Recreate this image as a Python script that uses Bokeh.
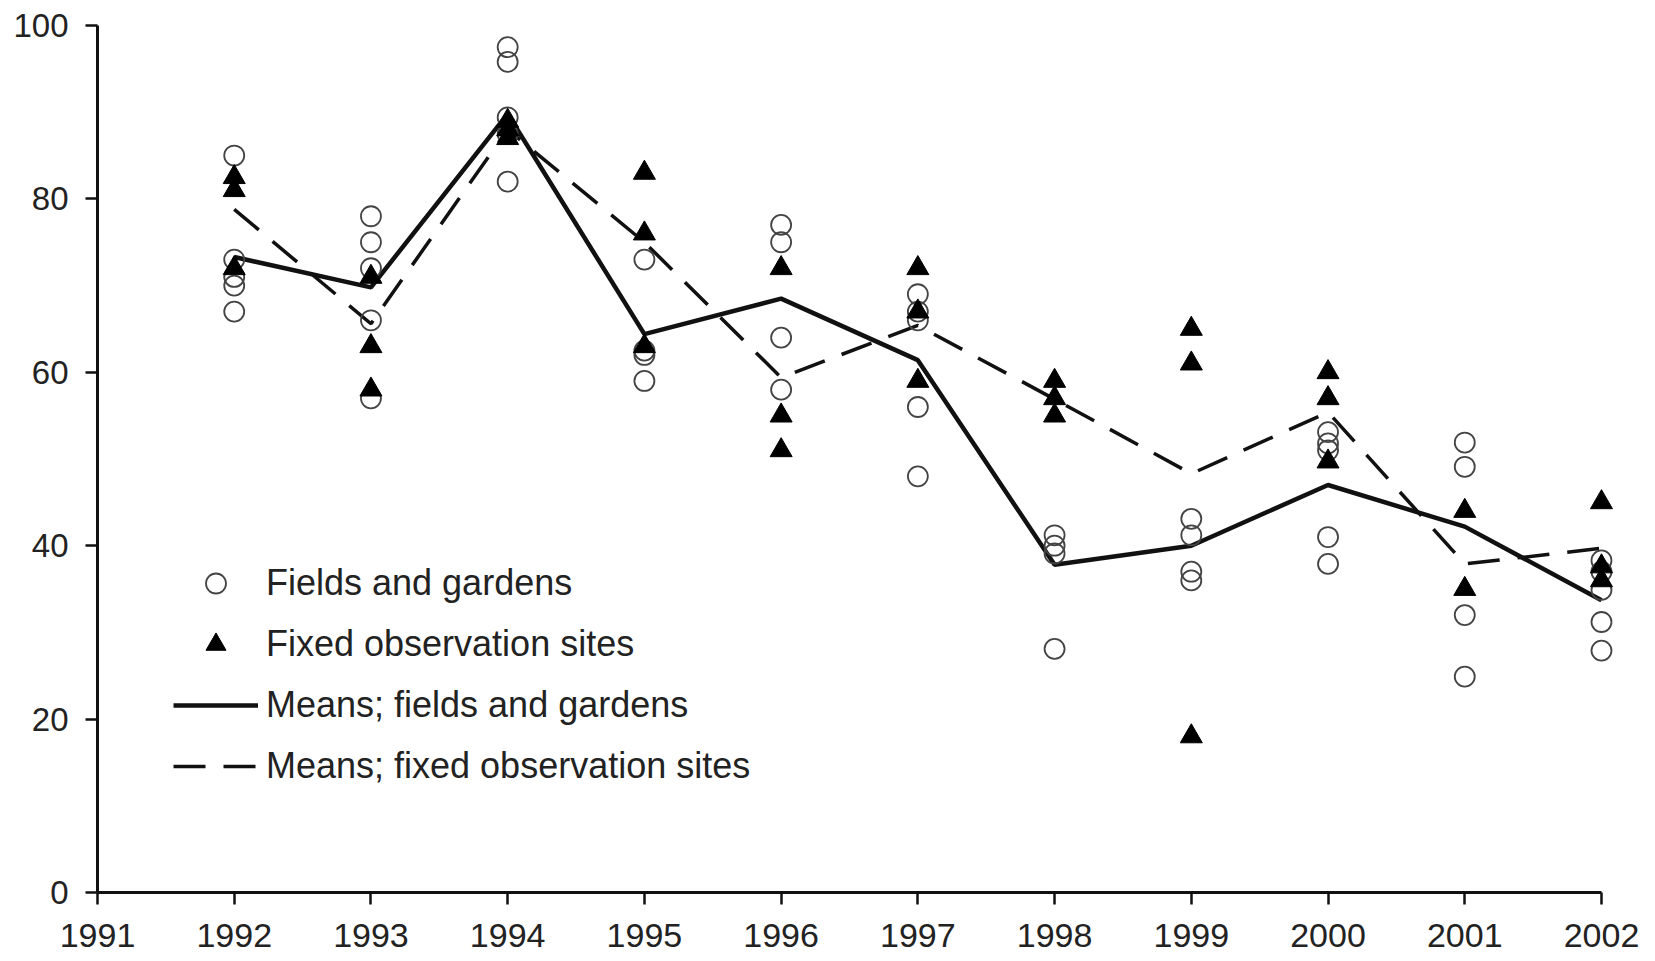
from bokeh.plotting import figure
from bokeh.models import Range1d, FixedTicker, Legend, LegendItem, ColumnDataSource
from bokeh.embed import file_html
from bokeh.resources import INLINE

# ---- data -------------------------------------------------------------
years = [1992, 1993, 1994, 1995, 1996, 1997, 1998, 1999, 2000, 2001, 2002]
x_ticks = [1991, 1992, 1993, 1994, 1995, 1996, 1997, 1998, 1999, 2000, 2001, 2002]
y_ticks = [0, 20, 40, 60, 80, 100]

# individual observations: fields and gardens (open circles)
fg_years = [1992, 1992, 1992, 1992, 1992,
            1993, 1993, 1993, 1993, 1993,
            1994, 1994, 1994, 1994, 1994,
            1995, 1995, 1995, 1995,
            1996, 1996, 1996, 1996,
            1997, 1997, 1997, 1997, 1997,
            1998, 1998, 1998, 1998,
            1999, 1999, 1999, 1999,
            2000, 2000, 2000, 2000, 2000,
            2001, 2001, 2001, 2001,
            2002, 2002, 2002, 2002, 2002]
fg_values = [85, 73, 71, 70, 67,
             78, 75, 72, 66, 57,
             97.5, 95.8, 89.4, 87.5, 82,
             73, 62.5, 62, 59,
             77, 75, 64, 58,
             69, 67, 66, 56, 48,
             41.2, 40, 39.1, 28.1,
             43.1, 41.2, 37, 36,
             53.1, 51.8, 51, 41, 37.9,
             51.9, 49.1, 32, 24.9,
             38.3, 37, 34.9, 31.2, 27.9]

# individual observations: fixed observation sites (filled triangles)
fx_years = [1992, 1992, 1992,
            1993, 1993, 1993,
            1994, 1994, 1994,
            1995, 1995, 1995,
            1996, 1996, 1996,
            1997, 1997, 1997,
            1998, 1998, 1998,
            1999, 1999, 1999,
            2000, 2000, 2000,
            2001, 2001,
            2002, 2002, 2002]
fx_values = [82.5, 81, 72,
             71, 63, 58,
             89, 88, 87,
             83, 76, 63,
             72, 55, 51,
             72, 67, 59,
             59, 57, 55,
             65, 61, 18,
             60, 57, 49.7,
             44, 35,
             45, 37.6, 36]

# yearly means
fg_means = [73.3, 69.8, 89.8, 64.4, 68.5, 61.4, 37.8, 40.0, 47.0, 42.2, 33.7]
fx_means = [78.8, 65.6, 88.0, 75.0, 59.4, 65.4, 56.9, 48.3, 55.4, 37.9, 39.7]

labels = ["Fields and gardens", "Fixed observation sites",
          "Means; fields and gardens", "Means; fixed observation sites"]

# ---- figure -----------------------------------------------------------
FONT = "Liberation Sans"
TXT = "#222222"

p = figure(width=1655, height=961, output_backend="svg", toolbar_location=None,
           x_range=Range1d(1991, 2002.3), y_range=Range1d(0, 100),
           min_border_left=97, min_border_right=13, min_border_top=25,
           min_border_bottom=69)
p.outline_line_color = None
p.xgrid.visible = False
p.ygrid.visible = False
p.background_fill_color = "white"
p.border_fill_color = "white"

src_fg = ColumnDataSource(dict(x=fg_years, y=fg_values))
src_fx = ColumnDataSource(dict(x=fx_years, y=fx_values))
src_mean = ColumnDataSource(dict(x=years, fg=fg_means, fx=fx_means))

r_fgm = p.line("x", "fg", source=src_mean, line_color="#111111", line_width=4.5)
r_fxm = p.line("x", "fx", source=src_mean, line_color="#111111", line_width=3.5,
               line_dash="32 18")
r_fg = p.scatter("x", "y", source=src_fg, marker="circle", size=20,
                 fill_color=None, line_color="#444444", line_width=1.8)
r_fx = p.scatter("x", "y", source=src_fx, marker="triangle", size=22,
                 fill_color="#000000", line_color="#000000", line_width=1)

# axes
xa = p.xaxis[0]
xa.ticker = FixedTicker(ticks=x_ticks)
xa.bounds = (1991, 2002)
xa.axis_line_width = 3
xa.axis_line_color = "#111111"
xa.major_tick_line_width = 2.5
xa.major_tick_line_color = "#111111"
xa.major_tick_out = 12
xa.major_tick_in = 0
xa.minor_tick_line_color = None
xa.major_label_standoff = 19
xa.major_label_text_font = FONT
xa.major_label_text_font_size = "34px"
xa.major_label_text_color = TXT

ya = p.yaxis[0]
ya.ticker = FixedTicker(ticks=y_ticks)
ya.bounds = (0, 100)
ya.axis_line_width = 3
ya.axis_line_color = "#111111"
ya.major_tick_line_width = 2.5
ya.major_tick_line_color = "#111111"
ya.major_tick_out = 12
ya.major_tick_in = 0
ya.minor_tick_line_color = None
ya.major_label_standoff = 17
ya.major_label_text_font = FONT
ya.major_label_text_font_size = "33px"
ya.major_label_text_color = TXT

legend = Legend(items=[LegendItem(label=labels[0], renderers=[r_fg]),
                       LegendItem(label=labels[1], renderers=[r_fx]),
                       LegendItem(label=labels[2], renderers=[r_fgm]),
                       LegendItem(label=labels[3], renderers=[r_fxm])],
                location=(76, 101), orientation="vertical",
                glyph_width=85, glyph_height=50, label_height=50,
                spacing=11, padding=0, margin=0, label_standoff=8,
                label_text_font=FONT, label_text_font_size="36px",
                label_text_color=TXT, border_line_color=None,
                background_fill_alpha=0)
p.add_layout(legend)

open("out.html", "w").write(file_html(p, INLINE))
